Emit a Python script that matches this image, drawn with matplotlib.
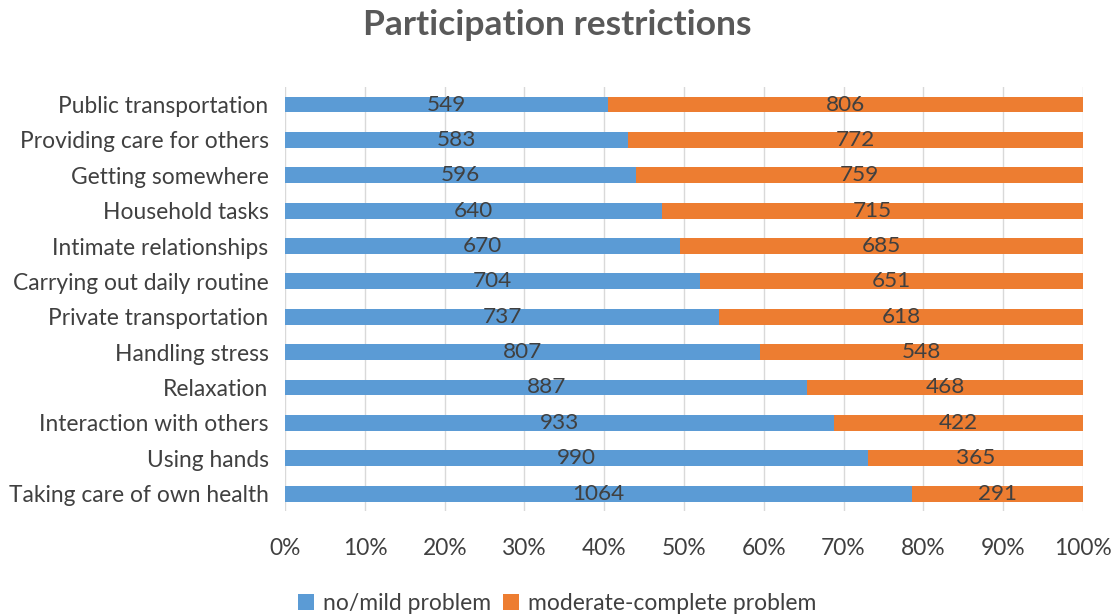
import matplotlib

matplotlib.use("Agg")
import matplotlib.pyplot as plt
from matplotlib.ticker import FuncFormatter

categories = [
    "Public transportation",
    "Providing care for others",
    "Getting somewhere",
    "Household tasks",
    "Intimate relationships",
    "Carrying out daily routine",
    "Private transportation",
    "Handling stress",
    "Relaxation",
    "Interaction with others",
    "Using hands",
    "Taking care of own health",
]
no_mild = [549, 583, 596, 640, 670, 704, 737, 807, 887, 933, 990, 1064]
moderate_complete = [806, 772, 759, 715, 685, 651, 618, 548, 468, 422, 365, 291]
series_names = ["no/mild problem", "moderate-complete problem"]

BLUE = "#5B9BD5"
ORANGE = "#ED7D31"
TEXT = "#404040"

plt.rcParams["font.family"] = ["Lato", "DejaVu Sans"]

fig = plt.figure(figsize=(11.14, 6.16), dpi=100)
ax = fig.add_axes([0.256, 0.170, 0.716, 0.689])

totals = [a + b for a, b in zip(no_mild, moderate_complete)]
share_a = [a / t for a, t in zip(no_mild, totals)]
share_b = [b / t for b, t in zip(moderate_complete, totals)]
ypos = list(range(len(categories)))

bars_a = ax.barh(ypos, share_a, height=0.45, color=BLUE, label=series_names[0], zorder=3)
bars_b = ax.barh(ypos, share_b, left=share_a, height=0.45, color=ORANGE, label=series_names[1], zorder=3)

for bar, val in zip(bars_a, no_mild):
    ax.text(bar.get_x() + bar.get_width() / 2, bar.get_y() + bar.get_height() / 2, str(val),
            ha="center", va="center", fontsize=16.2, color=TEXT, zorder=4)
for bar, val in zip(bars_b, moderate_complete):
    ax.text(bar.get_x() + bar.get_width() / 2, bar.get_y() + bar.get_height() / 2, str(val),
            ha="center", va="center", fontsize=16.2, color=TEXT, zorder=4)

ax.set_xlim(0, 1)
ax.set_ylim(len(categories) - 0.5, -0.5)
ax.set_yticks(ypos)
ax.set_yticklabels(categories)
ax.set_xticks([i / 10 for i in range(11)])
ax.xaxis.set_major_formatter(FuncFormatter(lambda v, _: f"{v * 100:.0f}%"))
ax.tick_params(axis="both", length=0, labelsize=16.4, colors=TEXT)
ax.tick_params(axis="x", pad=19)
ax.tick_params(axis="y", pad=12)
ax.grid(True, axis="x", color="#D9D9D9", linewidth=1, zorder=0)
for spine in ax.spines.values():
    spine.set_visible(False)

fig.suptitle("Participation restrictions", x=0.5, y=0.985, fontsize=25.5, fontweight="bold", color="#595959")
fig.legend(loc="lower center", bbox_to_anchor=(0.5, -0.03), ncol=2, frameon=False,
           fontsize=16.5, handlelength=0.7, handleheight=0.7, handletextpad=0.4, columnspacing=0.5,
           labelcolor=TEXT)

fig.savefig("out.png", dpi=100)
